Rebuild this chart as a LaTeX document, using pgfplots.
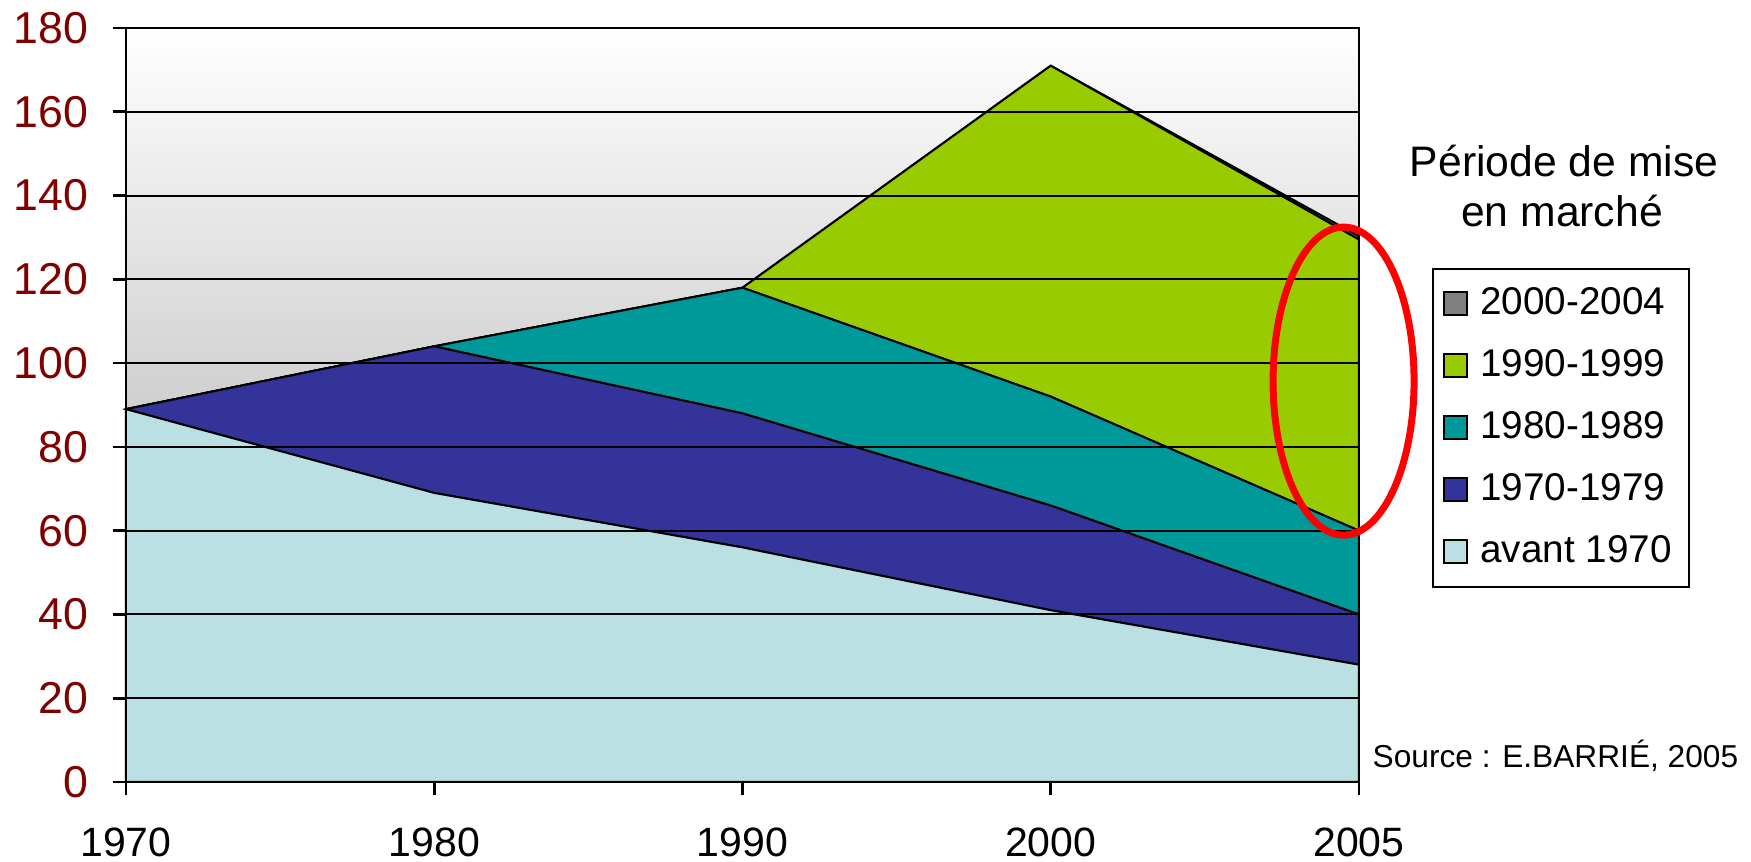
\documentclass[border=0pt]{standalone}
\usepackage{fontspec}
\setmainfont{Liberation Sans}
\usepackage{pgfplots}
\pgfplotsset{compat=1.18}

\definecolor{avant}{RGB}{187,224,227}
\definecolor{c70}{RGB}{51,51,153}
\definecolor{c80}{RGB}{0,153,153}
\definecolor{c90}{RGB}{153,204,0}
\definecolor{c00}{RGB}{128,128,128}
\definecolor{tickred}{RGB}{128,0,0}
\definecolor{bggray}{RGB}{160,160,160}

\begin{document}
\begin{tikzpicture}
% page frame, 1 px of the reference = 0.3pt, axis box lower left at (0,0)
\useasboundingbox (-37.8pt,-24pt) rectangle (487.5pt,234.6pt);
\begin{axis}[
    scale only axis,
    width=369.9pt, height=226.2pt,
    xmin=0, xmax=4, ymin=0, ymax=180,
    xtick={0,1,2,3,4},
    xticklabels={1970,1980,1990,2000,2005},
    ytick={0,20,...,180},
    /pgf/number format/assume math mode=true,
    ymajorgrids,
    grid style={black, line width=0.6pt},
    axis line style={black, line width=0.8pt},
    tick style={black, line width=0.8pt},
    tick align=outside, tick pos=left,
    major tick length=4pt,
    yticklabel style={font=\fontsize{13.4}{16}\selectfont, text=tickred,
        anchor=east, inner sep=0pt, xshift=-7.1pt},
    xticklabel style={font=\fontsize{12.3}{14}\selectfont,
        anchor=north, inner sep=0pt, yshift=-9.5pt},
    axis background/.style={top color=white, bottom color=bggray},
    clip=false,
    stack plots=y,
    area style,
    every axis plot/.append style={draw=black, line width=0.6pt},
    reverse legend,
    legend image code/.code={\draw[#1, draw=black, line width=0.5pt] (0pt,-3.45pt) rectangle (6.9pt,3.45pt); \path (8.5pt,0pt);},
    legend style={at={(axis description cs:1.0592,0.6817)}, anchor=north west,
        draw=black, line width=0.5pt, inner xsep=3.2pt, inner ysep=1.2pt,
        font=\fontsize{11.6}{13}\selectfont,
        nodes={inner sep=2pt, minimum height=18.6pt},
        cells={anchor=west}},
]
\addplot[fill=avant] coordinates {(0,89) (1,69) (2,56) (3,41) (4,28)} \closedcycle;
\addlegendentry{avant 1970}
\addplot[fill=c70] coordinates {(0,0) (1,35) (2,32) (3,25) (4,12)} \closedcycle;
\addlegendentry{1970-1979}
\addplot[fill=c80] coordinates {(0,0) (1,0) (2,30) (3,26) (4,20)} \closedcycle;
\addlegendentry{1980-1989}
\addplot[fill=c90] coordinates {(0,0) (1,0) (2,0) (3,79) (4,69.5)} \closedcycle;
\addlegendentry{1990-1999}
\addplot[fill=c00] coordinates {(0,0) (1,0) (2,0) (3,0) (4,0.8)} \closedcycle;
\addlegendentry{2000-2004}

\coordinate (ring) at (axis cs:3.95,95.7);
\end{axis}

\draw[red, line width=2.1pt] (ring) ellipse [x radius=21.15pt, y radius=46.2pt];
\node[anchor=base, font=\fontsize{12.8}{15}\selectfont, inner sep=0pt] at (431.4pt,181.5pt) {Période de mise};
\node[anchor=base, font=\fontsize{12.8}{15}\selectfont, inner sep=0pt] at (430.8pt,166.5pt) {en marché};
\node[anchor=base west, font=\fontsize{9.5}{12}\selectfont, inner sep=0pt] at (373.8pt,4.2pt) {Source : E.BARRIÉ, 2005};
\end{tikzpicture}
\end{document}
